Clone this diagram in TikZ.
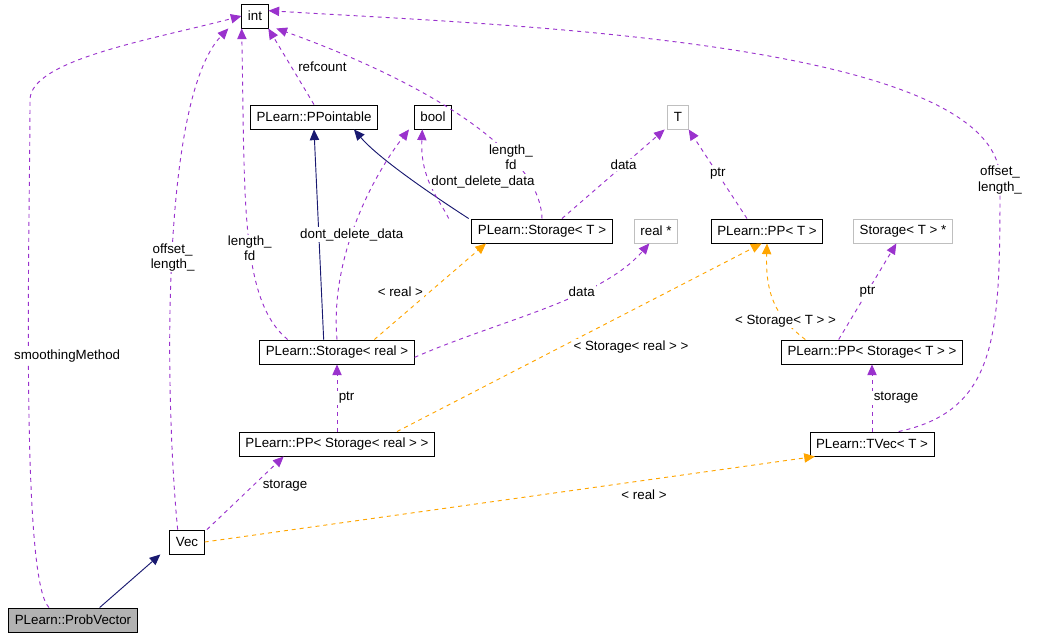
\documentclass[tikz,border=0pt]{standalone}
\usepackage{fontspec}
\setmainfont{Liberation Sans}
\usetikzlibrary{arrows.meta}
\definecolor{edgepurple}{HTML}{9A32CD}
\definecolor{edgeorange}{HTML}{FFA500}
\definecolor{edgenavy}{HTML}{191970}
\tikzset{
  cls/.style={draw=black, line width=0.7pt, rectangle, minimum height=18pt, inner xsep=4.5pt, font=\fontsize{10}{11.5}\selectfont},
  ext/.style={cls, draw=gray!50},
  cur/.style={cls, fill=gray!60},
  lbl/.style={font=\fontsize{10}{11.5}\selectfont, align=center, fill=white, inner sep=1pt},
  use/.style={draw=edgepurple, line width=0.7pt, dashed, -{Triangle[length=8pt,width=7pt]}},
  tmpl/.style={draw=edgeorange, line width=0.7pt, dashed, -{Triangle[length=8pt,width=7pt]}},
  inh/.style={draw=edgenavy, line width=0.7pt, -{Triangle[length=8pt,width=7pt]}}
}
\begin{document}
\begin{tikzpicture}[x=0.75pt,y=-0.75pt]
\useasboundingbox (0,0) rectangle (1053,643);
% classes
\node [cls] (int) at (255,16) {int};
\node [cls] (pointable) at (314,117) {PLearn::PPointable};
\node [cls] (bool) at (433,117) {bool};
\node [ext] (t) at (678,117) {T};
\node [cls] (storaget) at (542,231) {PLearn::Storage< T >};
\node [ext] (realptr) at (656,231) {real *};
\node [cls] (ppt) at (767,231) {PLearn::PP< T >};
\node [ext] (storagetptr) at (903,231) {Storage< T > *};
\node [cls] (storagereal) at (337,352) {PLearn::Storage< real >};
\node [cls] (ppstoraget) at (872,352) {PLearn::PP< Storage< T > >};
\node [cls] (ppstoragereal) at (337,444) {PLearn::PP< Storage< real > >};
\node [cls] (tvec) at (872,444) {PLearn::TVec< T >};
\node [cls] (vec) at (187,542) {Vec};
\node [cur] (probvec) at (73,620) {PLearn::ProbVector};
% inheritance
\draw [inh] ([xshift=20]probvec.north) -- ([xshift=-20]vec.south);
\draw [inh] ([xshift=-10]storagereal.north) -- (pointable.south);
\draw [inh] ([xshift=-55]storaget.north) .. controls (440,200) and (380,160) .. ([xshift=30]pointable.south);
% members
\draw [use] (pointable.north) -- node[lbl, right, xshift=4pt] {refcount} ([xshift=10]int.south);
\draw [use] ([xshift=-37]storagereal.north) .. controls (240,300) and (245,200) .. node[lbl, pos=0.45] {length\_\\fd} ([xshift=-10]int.south);
\draw [use] ([xshift=-7]vec.north) .. controls (165,400) and (160,100) .. node[lbl, pos=0.5] {offset\_\\length\_} ([xshift=-20]int.south);
\draw [use] ([xshift=-18]probvec.north) .. controls (20,580) and (30,220) .. node[lbl, pos=0.55, anchor=west, xshift=-12pt] {smoothingMethod} (30,100) .. controls (30,60) and (150,40) .. (int.west);
\draw [use] ([xshift=20]tvec.north) .. controls (1000,410) and (1000,330) .. node[lbl, pos=1] {offset\_\\length\_} (1000,180) .. controls (1000,40) and (500,25) .. ([yshift=4]int.east);
\draw [use] (storaget.north) .. controls (540,150) and (420,80) .. node[lbl, pos=0.3] {length\_\\fd} ([xshift=16]int.south);
\draw [use] (storagereal.north) .. controls (330,260) and (370,180) .. node[lbl, pos=0.45] {dont\_delete\_data} ([xshift=-18]bool.south);
\draw [use] ([xshift=-70]storaget.north) .. controls (440,200) and (420,180) .. node[lbl, pos=0.55, right] {dont\_delete\_data} ([xshift=-8]bool.south);
\draw [use] ([xshift=15]storaget.north) -- node[lbl, pos=0.6] {data} ([xshift=-10]t.south);
\draw [use] ([xshift=-15]ppt.north) -- node[lbl, pos=0.5] {ptr} ([xshift=8]t.south);
\draw [use] ([yshift=-4]storagereal.east) .. controls (500,320) and (600,300) .. node[lbl, pos=0.65] {data} ([xshift=-5]realptr.south);
\draw [use] ([xshift=-25]ppstoraget.north) -- node[lbl] {ptr} ([xshift=-5]storagetptr.south);
\draw [use] (ppstoragereal.north) -- node[lbl, right] {ptr} (storagereal.south);
\draw [use] (tvec.north) -- node[lbl, right] {storage} (ppstoraget.south);
\draw [use] ([xshift=15]vec.north) -- node[lbl, pos=0.6, right, xshift=6pt] {storage} ([xshift=-40]ppstoragereal.south);
% templates
\draw [tmpl] ([xshift=28]storagereal.north) -- node[lbl, pos=0.5, left, xshift=-4pt] {< real >} ([xshift=-42]storaget.south);
\draw [tmpl] ([xshift=45]ppstoragereal.north) -- node[lbl, pos=0.45, right, xshift=8pt] {< Storage< real > >} ([xshift=-4]ppt.south);
\draw [tmpl] ([xshift=-50]ppstoraget.north) .. controls (780,320) and (765,300) .. node[lbl, pos=0.3] {< Storage< T > >} (ppt.south);
\draw [tmpl] (vec.east) -- node[lbl, pos=0.72, below, yshift=-6pt] {< real >} ([xshift=4]tvec.south west);
\end{tikzpicture}
\end{document}
